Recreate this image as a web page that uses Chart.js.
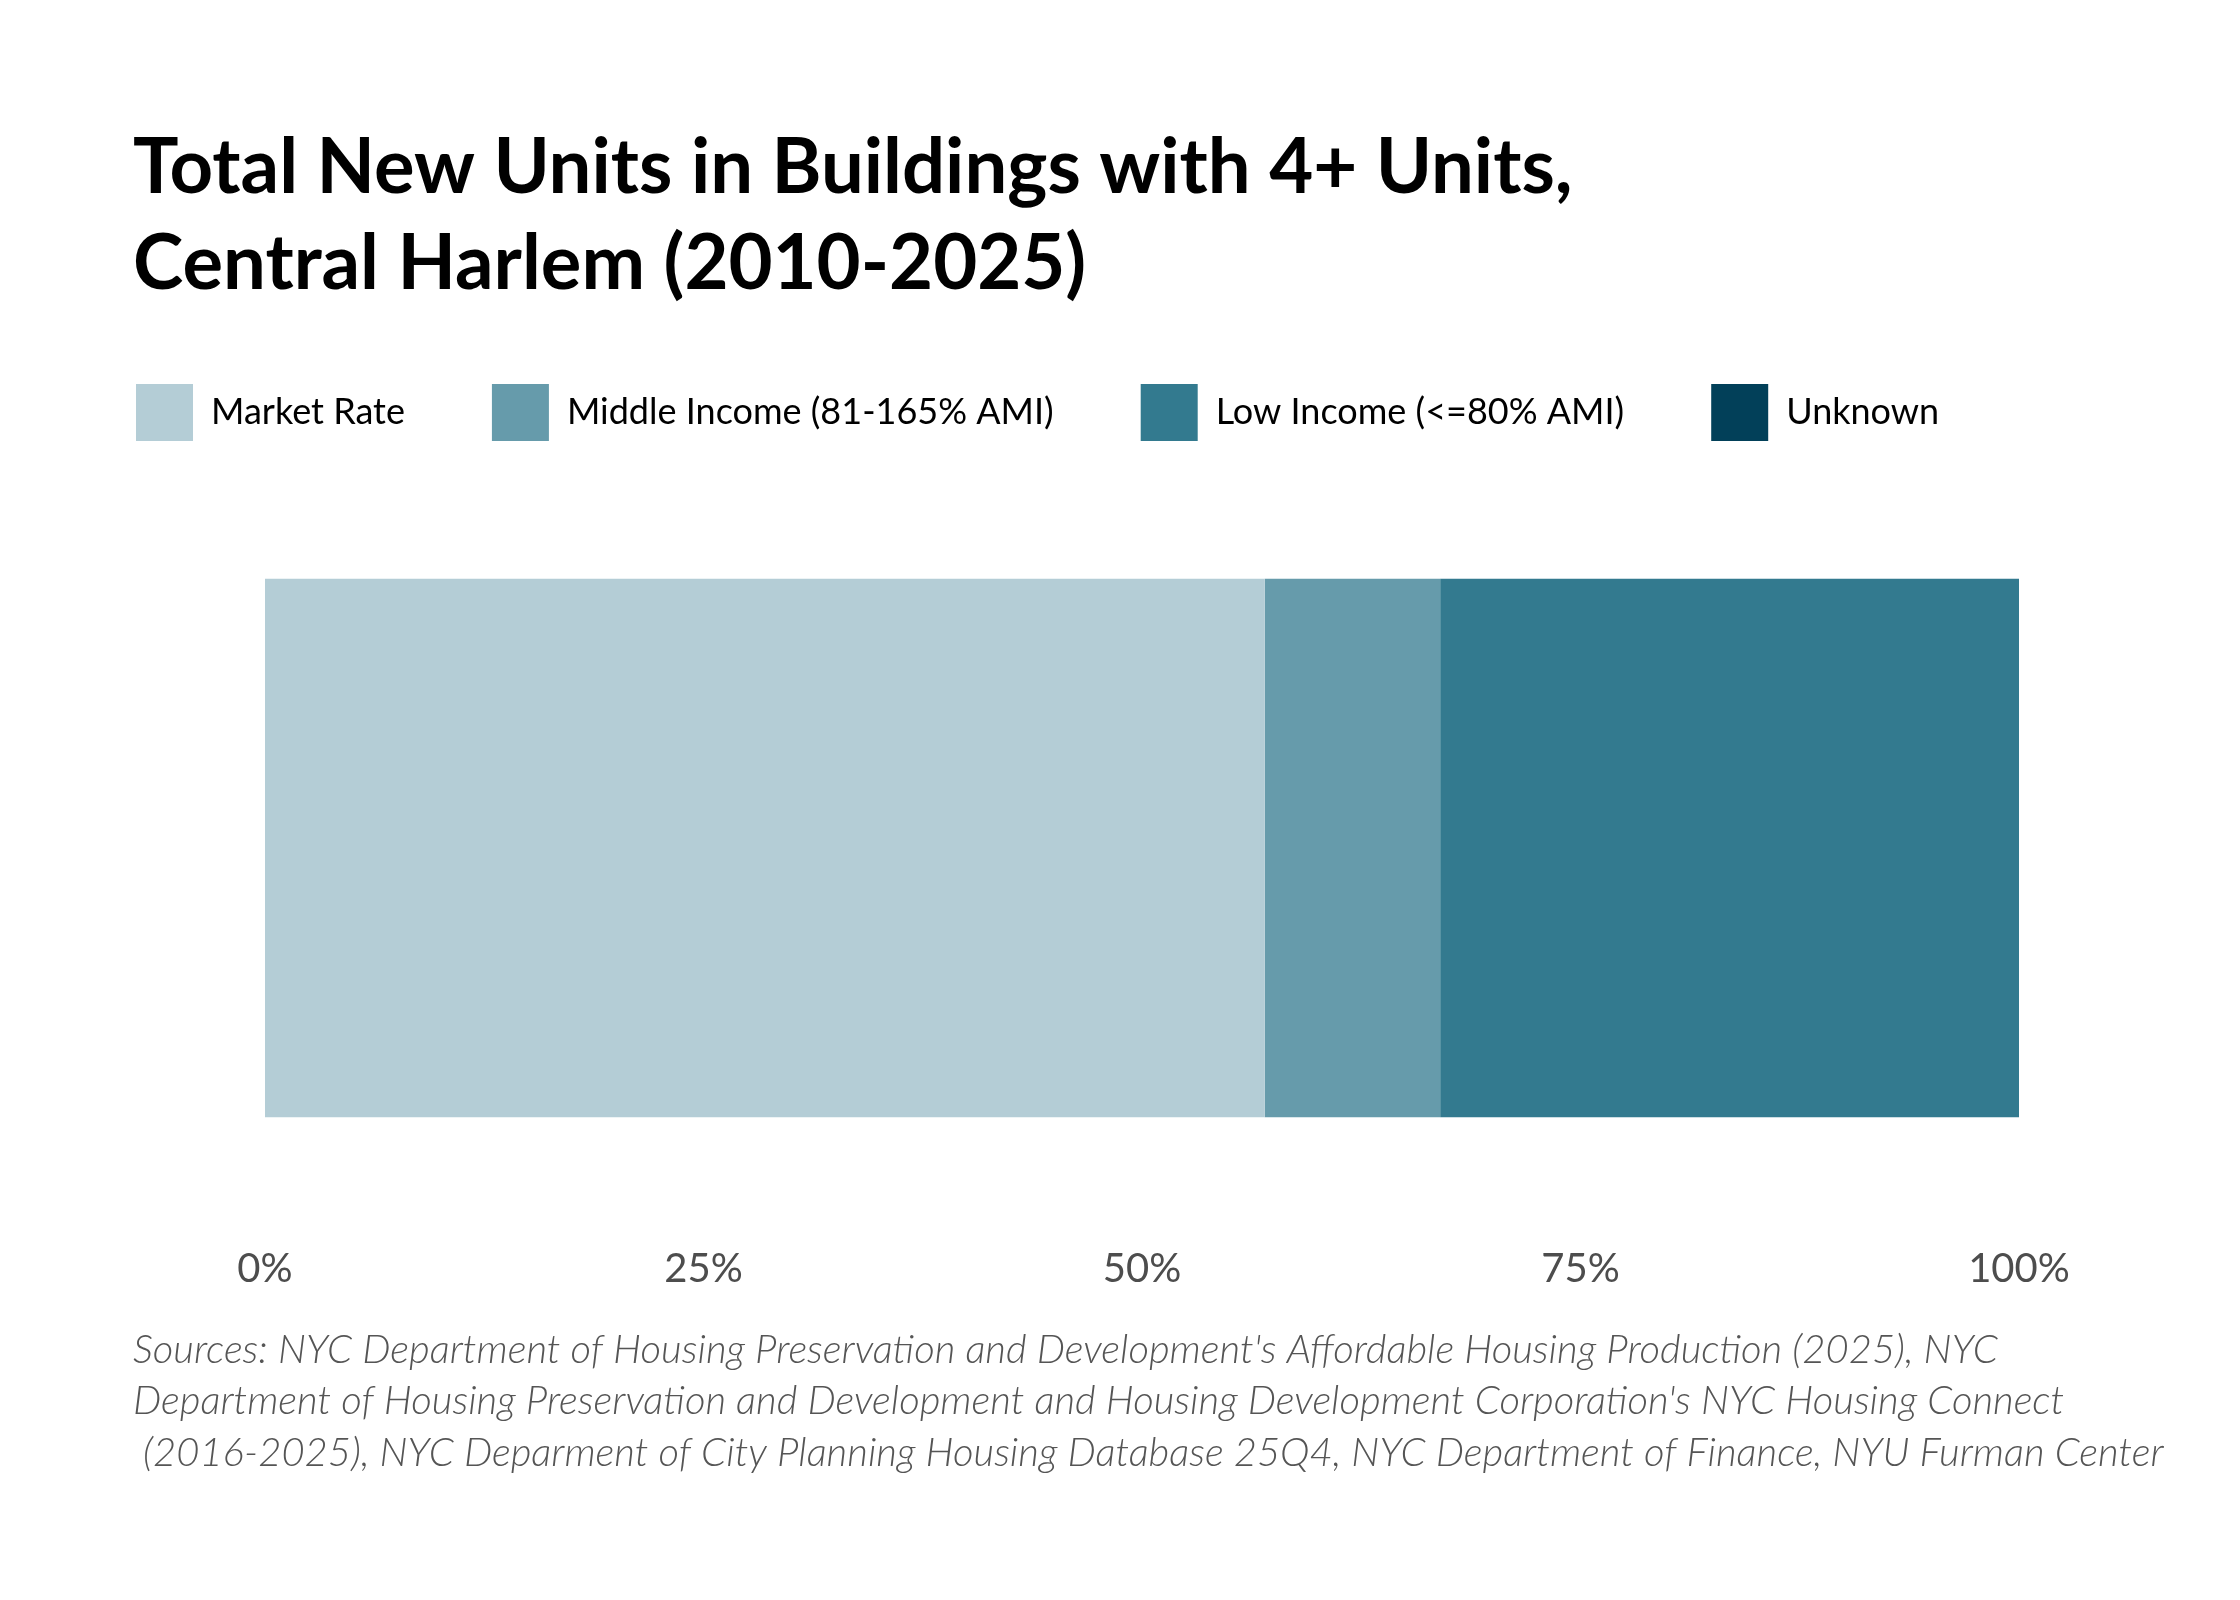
<!DOCTYPE html>
<html>
<head>
<meta charset="utf-8">
<script src="https://cdn.jsdelivr.net/npm/chart.js@4"></script>
<style>
  html, body { margin: 0; padding: 0; background: #ffffff; }
  #wrap { width: 2240px; height: 1600px; }
</style>
</head>
<body>
<div id="wrap"><canvas id="c" width="2240" height="1600"></canvas></div>
<script>
// ---- data ----
const categories = ['Central Harlem'];
const seriesNames = ['Market Rate', 'Middle Income (81-165% AMI)', 'Low Income (<=80% AMI)', 'Unknown'];
const marketRate = [57.0];
const middleIncome = [10.0];
const lowIncome = [33.0];
const unknown = [0.0];
const tickValues = [0, 25, 50, 75, 100];
const titleLines = ['Total New Units in Buildings with 4+ Units,', 'Central Harlem (2010-2025)'];
const sourceLines = [
  "Sources: NYC Department of Housing Preservation and Development's Affordable Housing Production (2025), NYC",
  "Department of Housing Preservation and Development and Housing Development Corporation's NYC Housing Connect",
  " (2016-2025), NYC Deparment of City Planning Housing Database 25Q4, NYC Department of Finance, NYU Furman Center"
];

const colors = ['#b4cdd6', '#669bab', '#337a8f', '#024059'];
const seriesValues = [marketRate, middleIncome, lowIncome, unknown];

const LEGEND_PAD = 87;
const legendShift = {
  id: 'legendShift',
  afterLayout(chart) {
    const lg = chart.legend;
    if (!lg) return;
    const dx = -(LEGEND_PAD - 3);
    lg.left += dx;
    lg.right += dx;
  }
};

const ctx = document.getElementById('c').getContext('2d');
new Chart(ctx, {
  type: 'bar',
  data: {
    labels: categories,
    datasets: seriesNames.map((name, i) => ({
      label: name,
      data: seriesValues[i],
      backgroundColor: colors[i],
      borderWidth: 0,
      barPercentage: 1.0,
      categoryPercentage: 0.678
    }))
  },
  plugins: [legendShift],
  options: {
    indexAxis: 'y',
    responsive: false,
    devicePixelRatio: 1,
    animation: false,
    layout: { padding: { left: 133, right: 0, top: 0, bottom: 60 } },
    scales: {
      x: {
        stacked: true,
        min: 0,
        max: 100,
        afterBuildTicks: (axis) => { axis.ticks = tickValues.map(v => ({ value: v })); },
        grid: { display: false, drawTicks: false },
        border: { display: false },
        ticks: {
          padding: 0,
          color: '#4d4d4d',
          font: { family: 'Lato', size: 40 },
          maxRotation: 0,
          callback: (v) => v + '%'
        }
      },
      y: {
        stacked: true,
        grid: { display: false, drawTicks: false },
        border: { display: false },
        ticks: { display: false },
        afterFit: (axis) => { axis.width = 132; }
      },
      yRight: {
        type: 'category',
        position: 'right',
        labels: categories,
        grid: { display: false, drawTicks: false },
        border: { display: false },
        ticks: { display: false },
        afterFit: (axis) => { axis.width = 221; }
      }
    },
    plugins: {
      tooltip: { enabled: false },
      title: {
        display: true,
        text: titleLines,
        align: 'start',
        color: '#000000',
        font: { family: 'Lato', size: 76, weight: 'bold', lineHeight: 96 / 76 },
        padding: { top: 120, bottom: -15 }
      },
      legend: {
        display: true,
        position: 'top',
        align: 'start',
        labels: {
          boxWidth: 57,
          boxHeight: 57,
          padding: LEGEND_PAD,
          color: '#000000',
          font: { family: 'Lato', size: 36 }
        }
      },
      subtitle: {
        display: true,
        position: 'bottom',
        text: sourceLines,
        align: 'start',
        color: '#555555',
        font: { family: 'Lato', size: 40, style: 'italic', weight: 300, lineHeight: 51.5 / 40 },
        padding: { top: 31, bottom: 61.5 }
      }
    }
  }
});
</script>
</body>
</html>
